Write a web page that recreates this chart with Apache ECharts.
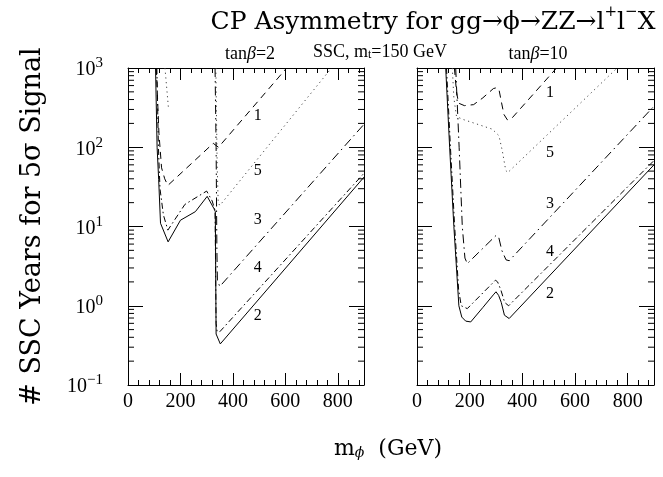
<!DOCTYPE html>
<html><head><meta charset="utf-8">
<script src="https://cdn.jsdelivr.net/npm/echarts@6/dist/echarts.min.js"></script>
<style>html,body{margin:0;padding:0;background:#fff}#c{width:663px;height:477px}</style>
</head><body><div id="c"></div>
<script>
// ---- tick labels ----
const xTickLabels = [0, 200, 400, 600, 800];
const yMinorValues = [0.2,0.3,0.4,0.5,0.6,0.7,0.8,0.9, 2,3,4,5,6,7,8,9, 20,30,40,50,60,70,80,90, 200,300,400,500,600,700,800,900];

// ---- left panel: tanβ = 2  (m_phi [GeV], years) ----
const left1 = [[108,1000],[118,150],[128,55],[140,40],[152,33],[325,112],[345,100],[605,1000]];
const left5a = [[141,1000],[154,320]];
const left5 = [[335,1000],[340,60],[344,20],[350,18.4],[776,1000]];
const left3 = [[332,1000],[336,100],[339,5],[341,2.1],[350,1.75],[900,195]];
const left4 = [[110,1000],[116,100],[122,30],[135,14],[152,9],[217,19],[300,28],[321,21],[332,16],[336,0.6],[340,0.47],[350,0.47],[900,47]];
const left2 = [[105,1000],[111,100],[117,39],[124,11],[153,6.4],[200,12],[257,15.4],[302,24],[327,17],[333,15.4],[336,0.44],[352,0.33],[900,42]];
const leftLabels = [[495,249,'1'],[495,50,'5'],[495,12,'3'],[495,3,'4'],[495,0.74,'2']];

// ---- right panel: tanβ = 10 ----
const right1 = [[142,1000],[150,500],[158,360],[180,335],[215,345],[250,420],[290,550],[303,565],[312,520],[320,380],[330,260],[343,222],[360,232],[530,1000]];
const right5 = [[134,1000],[140,420],[150,245],[172,226],[286,169],[311,140],[324,90],[337,51],[345,48],[760,1000]];
const right3 = [[147,1000],[160,100],[172,10],[182,4],[191,3.4],[250,5.3],[300,7.7],[310,7.4],[322,5],[338,3.8],[350,3.7],[900,330]];
const right4 = [[112,1000],[127,100],[143,10],[158,1.6],[168,1.0],[191,0.92],[250,1.45],[298,2.1],[306,2.0],[318,1.6],[333,1.1],[348,1.0],[900,68]];
const right2 = [[109,1000],[124,100],[140,10],[159,1],[170,0.72],[185,0.64],[204,0.625],[250,0.95],[292,1.4],[300,1.5],[310,1.35],[320,1.1],[332,0.76],[350,0.69],[900,60]];
const rightLabels = [[505,489,'1'],[505,86,'5'],[505,19.3,'3'],[505,4.75,'4'],[505,1.42,'2']];

const F = '"DejaVu Serif", "Liberation Serif", serif';
const FT = '"Liberation Serif", "DejaVu Serif", serif';
const BLACK = '#000';
const styles = {
  s1: [7, 5],
  s5: [1.2, 3.5],
  s3: [9, 4, 1.5, 4],
  s4: [6, 3, 1.5, 3],
  s2: 'solid'
};

function xAx(grid, pos) {
  return {
    type: 'value', gridIndex: grid, position: pos, min: 0, max: 900, interval: 200,
    axisLine: {show: true, onZero: false, lineStyle: {color: BLACK, width: 1}},
    axisTick: {show: true, inside: true, length: 12, lineStyle: {color: BLACK, width: 1}},
    minorTick: {show: true, splitNumber: 5, length: 5, lineStyle: {color: BLACK, width: 1}},
    splitLine: {show: false}, minorSplitLine: {show: false},
    axisLabel: {show: pos === 'bottom', showMaxLabel: false, margin: 7,
      formatter: v => xTickLabels.indexOf(v) >= 0 ? String(v) : '',
      fontFamily: FT, fontSize: 20, color: BLACK}
  };
}
function yAx(grid, pos, labels) {
  return {
    type: 'log', logBase: 10, gridIndex: grid, position: pos, min: 0.1, max: 1000,
    axisLine: {show: true, onZero: false, lineStyle: {color: BLACK, width: 1}},
    axisTick: {show: true, inside: true, length: 15, lineStyle: {color: BLACK, width: 1}},
    minorTick: {show: false}, splitLine: {show: false},
    axisLabel: {show: labels, margin: 25,
      formatter: v => {
        const e = Math.round(Math.log10(v));
        return '{b|10}{e|' + (e < 0 ? '\u2212' + (-e) : e) + '}';
      },
      rich: {
        b: {fontFamily: FT, fontSize: 20, color: BLACK, lineHeight: 24, verticalAlign: 'bottom'},
        e: {fontFamily: FT, fontSize: 15, color: BLACK, lineHeight: 13, verticalAlign: 'top'}
      }}
  };
}
function lineS(data, xi, yi, type, color) {
  return {type: 'line', xAxisIndex: xi, yAxisIndex: yi, data: data, symbol: 'none', showSymbol: false,
    clip: true, animation: false, silent: true,
    lineStyle: {color: color || BLACK, width: 1, type: type}};
}
function minorS(xi, yi) {
  return {type: 'custom', xAxisIndex: xi, yAxisIndex: yi, silent: true, clip: false, animation: false,
    encode: {x: 0, y: 1},
    data: yMinorValues.map(v => [0, v]),
    renderItem: (params, api) => {
      const v = api.value(1);
      const l = api.coord([0, v]);
      const r = api.coord([900, v]);
      return {type: 'group', children: [
        {type: 'line', shape: {x1: l[0], y1: l[1], x2: l[0] + 6, y2: l[1]}, style: {stroke: BLACK, lineWidth: 1}},
        {type: 'line', shape: {x1: r[0], y1: r[1], x2: r[0] - 6, y2: r[1]}, style: {stroke: BLACK, lineWidth: 1}}
      ]};
    }};
}
function labelS(data, xi, yi) {
  return {type: 'scatter', xAxisIndex: xi, yAxisIndex: yi, data: data, symbolSize: 0, silent: true, animation: false,
    itemStyle: {opacity: 1},
    label: {show: true, position: 'inside', formatter: p => p.value[2], fontFamily: FT, fontSize: 16,
      fontWeight: 'normal', color: BLACK, opacity: 1, textBorderWidth: 0}};
}

const chart = echarts.init(document.getElementById('c'));
const N = 'normal';
const titleRich = {
  a: {fontFamily: F, fontSize: 25, fontWeight: N, color: BLACK, lineHeight: 30, verticalAlign: 'bottom'},
  s: {fontFamily: F, fontSize: 15, fontWeight: N, color: BLACK, lineHeight: 14, verticalAlign: 'top'},
  m: {fontFamily: FT, fontSize: 18, fontWeight: N, color: BLACK, lineHeight: 22, verticalAlign: 'bottom'},
  mi: {fontFamily: FT, fontSize: 18, fontWeight: N, fontStyle: 'italic', color: BLACK, lineHeight: 22, verticalAlign: 'bottom'},
  ms: {fontFamily: FT, fontSize: 12, fontWeight: N, color: BLACK, lineHeight: 12, verticalAlign: 'bottom'},
  x: {fontFamily: F, fontSize: 22, fontWeight: N, color: BLACK, lineHeight: 28, verticalAlign: 'bottom'},
  xs: {fontFamily: F, fontSize: 14, fontWeight: N, fontStyle: 'italic', color: BLACK, lineHeight: 10, verticalAlign: 'bottom'}
};
chart.setOption({
  backgroundColor: '#fff',
  animation: false,
  title: [
    {text: '{a|CP Asymmetry for gg\u2192\u03d5\u2192ZZ\u2192l}{s|+}{a|l}{s|\u2212}{a|X}', left: 428, top: 0, textAlign: 'center', textStyle: {fontWeight: N, rich: titleRich}},
    {text: '{m|tan}{mi|\u03b2}{m|=2}', left: 245, top: 36, textAlign: 'center', textStyle: {fontWeight: N, rich: titleRich}},
    {text: '{m|SSC, m}{ms|t}{m|=150 GeV}', left: 375, top: 34, textAlign: 'center', textStyle: {fontWeight: N, rich: titleRich}},
    {text: '{m|tan}{mi|\u03b2}{m|=10}', left: 533, top: 36, textAlign: 'center', textStyle: {fontWeight: N, rich: titleRich}},
    {text: '{x|m}{xs|\u03d5}{x|  (GeV)}', left: 383, top: 427, textAlign: 'center', textStyle: {fontWeight: N, rich: titleRich}}
  ],
  grid: [
    {left: 128, top: 68, width: 236, height: 317, containLabel: false},
    {left: 417, top: 68, width: 237, height: 317, containLabel: false}
  ],
  xAxis: [xAx(0, 'bottom'), xAx(0, 'top'), xAx(1, 'bottom'), xAx(1, 'top')],
  yAxis: [
    Object.assign(yAx(0, 'left', true), {name: '# SSC Years for 5\u03c3 Signal', nameLocation: 'middle', nameGap: 82, nameRotate: 90,
      nameTextStyle: {fontFamily: F, fontSize: 27, fontWeight: N, color: BLACK}}),
    yAx(0, 'right', false),
    yAx(1, 'left', false),
    yAx(1, 'right', false)
  ],
  series: [
    lineS(left1, 0, 0, styles.s1),
    lineS(left5a, 0, 0, styles.s5, '#444'),
    lineS(left5, 0, 0, styles.s5, '#444'),
    lineS(left3, 0, 0, styles.s3),
    lineS(left4, 0, 0, styles.s4),
    lineS(left2, 0, 0, styles.s2),
    labelS(leftLabels, 0, 0),
    minorS(0, 0),
    lineS(right1, 2, 2, styles.s1),
    lineS(right5, 2, 2, styles.s5, '#444'),
    lineS(right3, 2, 2, styles.s3),
    lineS(right4, 2, 2, styles.s4),
    lineS(right2, 2, 2, styles.s2),
    labelS(rightLabels, 2, 2),
    minorS(2, 2)
  ]
});
</script></body></html>
